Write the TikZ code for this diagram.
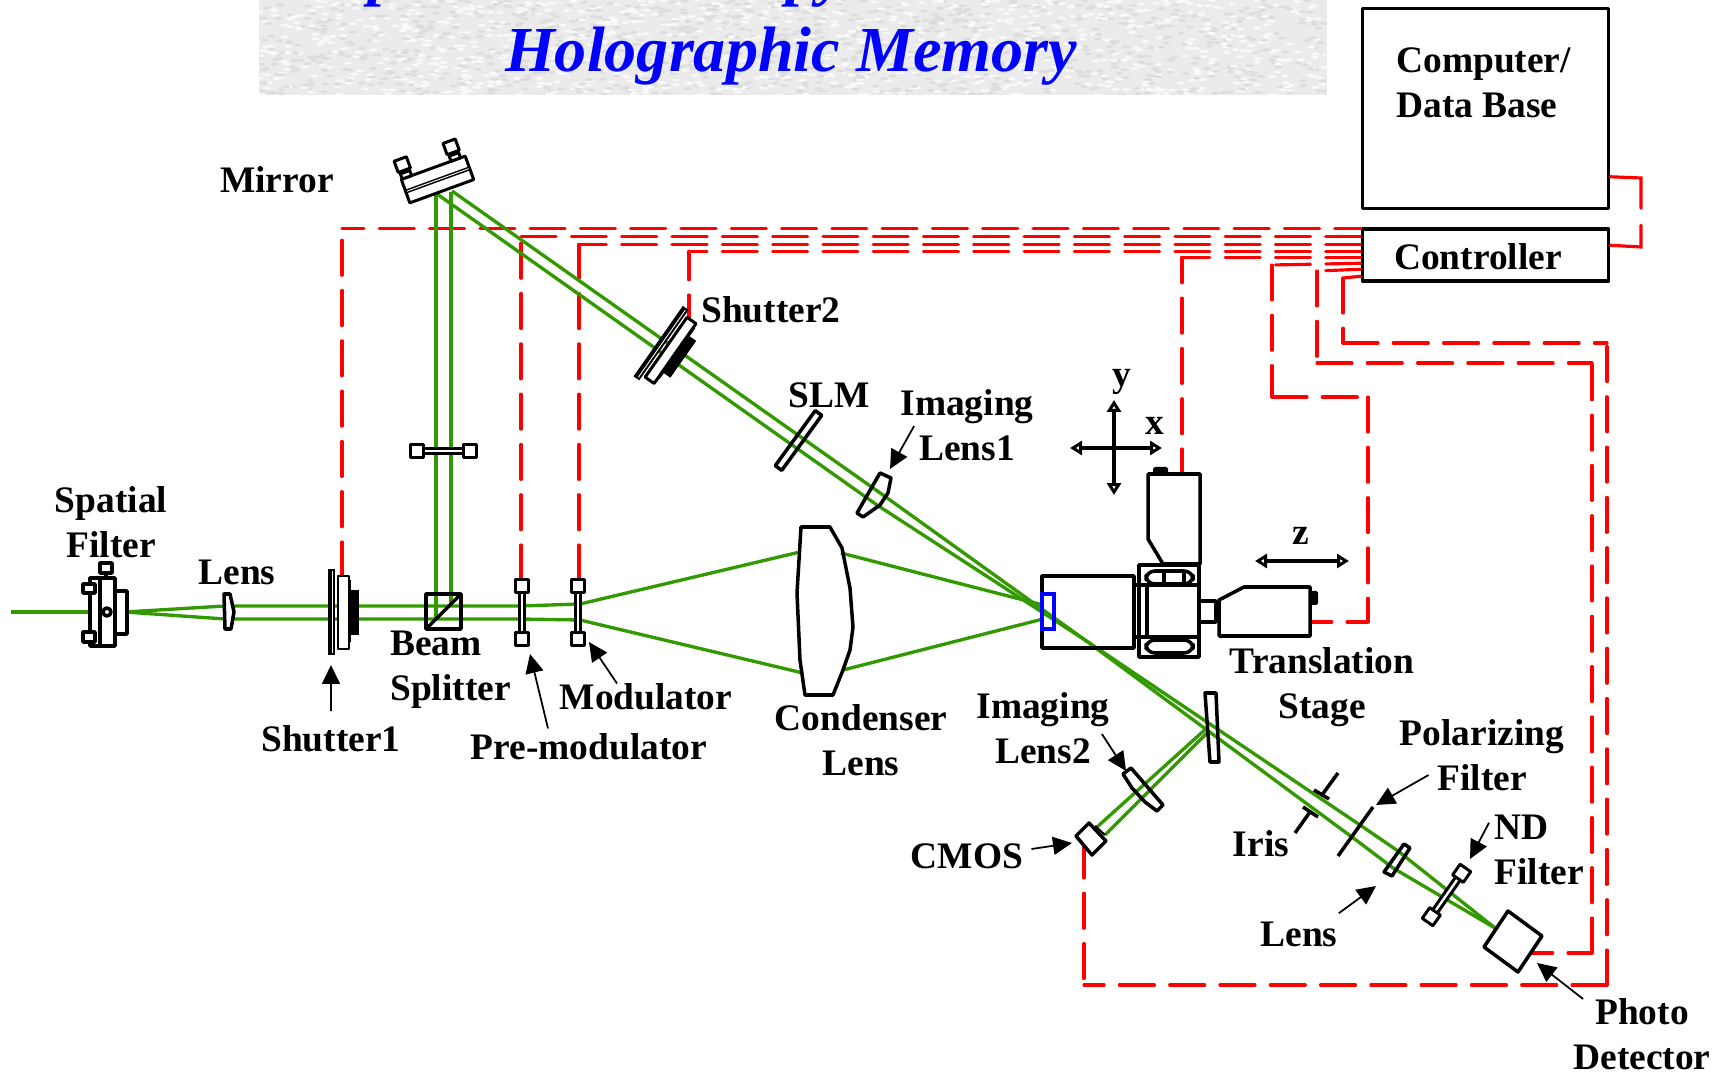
\documentclass[tikz,border=0pt]{standalone}
\usepackage{fontspec}
\setmainfont{Liberation Serif}
\usetikzlibrary{arrows.meta,calc}
\definecolor{beamgreen}{RGB}{51,153,0}
\tikzset{
  unit/.style={black, line width=2pt, line join=round},
  part/.style={unit, fill=white},
  thinpart/.style={black, line width=1.7pt, line join=round, fill=white},
  beam/.style={beamgreen, line width=1.9pt},
  wire/.style={red, line width=1.8pt, dash pattern=on 0.7cm off 0.306cm, line cap=round},
  callout/.style={black, line width=1pt, -{Triangle[length=0.38cm,width=0.36cm]}},
  axis/.style={black, line width=1.8pt, {Triangle[open,fill=white,length=0.24cm,width=0.28cm]}-{Triangle[open,fill=white,length=0.24cm,width=0.28cm]}},
  lbl/.style={font=\fontsize{21.3}{25.6}\selectfont\bfseries, inner sep=0pt, align=center},
  headline/.style={font=\fontsize{36.5}{40}\selectfont\bfseries\itshape, text=blue, inner sep=0pt},
  % shutter body, plate on the left, centre at the origin
  shutterunit/.pic={
    \fill[black] (9,-32) rectangle (11,30);
    \fill[black] (9,-22) rectangle (19,23);
    \draw[thinpart] (-2,-36) rectangle (9,37);
    \fill[black] (-12,-43) rectangle (-5,43);
    \draw[white, line width=0.5pt] (-7.5,-41) -- (-7.5,41);
  },
  % thin bar between two square holders
  barunit/.pic={
    \draw[thinpart] (-2.8,-22) rectangle (2.8,22);
    \draw[thinpart] (-6.5,-33) rectangle (6.5,-20);
    \draw[thinpart] (-6.5,20) rectangle (6.5,33);
  },
}
\begin{document}
\begin{tikzpicture}[x=0.02cm, y=-0.02cm]
  \useasboundingbox (0,0) rectangle (1729,1074);
  % slide title on its mottled band
  \begin{scope}
    \clip (259,0) rectangle (1327,95);
    \fill[gray!16] (259,0) rectangle (1327,95);
    \pgfmathsetseed{7}
    \foreach \k in {1,...,1000} {
      \pgfmathsetmacro{\rx}{259+rnd*1068}
      \pgfmathsetmacro{\ry}{rnd*95}
      \fill[gray!27] (\rx,\ry) ellipse (4 and 1.5);
      \pgfmathsetmacro{\rx}{259+rnd*1068}
      \pgfmathsetmacro{\ry}{rnd*95}
      \fill[gray!5] (\rx,\ry) ellipse (4 and 1.5);
    }
    \node[headline, anchor=base west] (titleA) at (368,-6) {p};
    \node[headline, anchor=base west] (titleB) at (786,-6) {py};
  \end{scope}
  \node[headline] (titleC) at (791,56) {Holographic Memory};

  % control boxes
  \node[unit, draw, minimum width=4.92cm, minimum height=4cm, inner sep=0pt] (comp) at (1485.5,108.5) {};
  \node[lbl, align=left, anchor=west] (lblComp) at (1396,83) {Computer/\\Data Base};
  \node[unit, draw, minimum width=4.92cm, minimum height=1.04cm, inner sep=0pt] (ctrl) at (1485.5,255) {};
  \node[lbl] (lblCtrl) at (1478,257) {Controller};

  % wire ends on the parts
  \coordinate (shutterOneIn) at (342,575);
  \coordinate (premodIn) at (521,580);
  \coordinate (modIn) at (579,580);
  \coordinate (shutterTwoIn) at (689,318);
  \coordinate (camIn) at (1182,475);
  \coordinate (stageIn) at (1311,622);
  \coordinate (detIn) at (1532,953);
  \coordinate (cmosIn) at (1084,843);

  % control wires with one bend, dashed out from both ends
  \foreach \unitin/\dy/\hph/\vph in {shutterOneIn/1/0.18/0.04, premodIn/9/0/0, modIn/17/0/0,
      shutterTwoIn/24/0/0.24, camIn/30/0/0.18} {
    \coordinate (wireStart) at ($(ctrl.north west)+(0,\dy)$);
    \draw[wire, dash phase=\hph cm] (wireStart) -- (wireStart -| \unitin);
    \draw[wire, dash phase=\vph cm] (\unitin) -- (wireStart -| \unitin);
  }

  % long wires, bend by bend
  \coordinate (wireF0) at ($(ctrl.north west)+(0,36)$);
  \coordinate (wireF1) at (1272,265);
  \coordinate (wireF2) at (1272,397);
  \coordinate (wireF3) at (1368,397);
  \coordinate (wireF4) at (1368,622);
  \coordinate (wireG0) at ($(ctrl.north west)+(0,42)$);
  \coordinate (wireG1) at (1317,271);
  \coordinate (wireG2) at (1317,363);
  \coordinate (wireG3) at (1592,363);
  \coordinate (wireG4) at (1592,953);
  \coordinate (wireH0) at ($(ctrl.north west)+(0,49)$);
  \coordinate (wireH1) at (1343,278);
  \coordinate (wireH2) at (1343,343);
  \coordinate (wireH3) at (1607,343);
  \coordinate (wireH4) at (1607,985);
  \coordinate (wireH5) at (1084,985);
  \foreach \a/\b in {wireF0/wireF1, wireF1/wireF2, wireF2/wireF3, wireF3/wireF4,
      wireG0/wireG1, wireG1/wireG2, wireG2/wireG3, wireG4/wireG3,
      wireH0/wireH1, wireH1/wireH2, wireH2/wireH3, wireH4/wireH3, wireH4/wireH5, cmosIn/wireH5} {
    \draw[wire] (\a) -- (\b);
  }
  \draw[wire, dash phase=0.28cm] (wireF4) -- (stageIn);
  \draw[wire, dash phase=0.22cm] (wireG4) -- (detIn);

  % computer to controller
  \draw[wire, dash pattern=on 1.22cm off 0.34cm] ($(comp.north east)+(0,170)$) -- (1641,178) -- (1641,247) -- ($(ctrl.north east)+(0,18)$);

  % beams
  \draw[beam] (11,612) -- (125,612);
  \draw[beam] (125,612) -- (225,606) -- (520,606) -- (580,604) -- (800,552);
  \draw[beam] (125,612) -- (225,619) -- (520,619) -- (580,620) -- (803,673);
  \draw[beam] (841,553) -- (1043,605);
  \draw[beam] (843,670) -- (1043,619);
  \draw[beam] (436,619) -- (436,192);
  \draw[beam] (451,606) -- (451,192);
  \draw[beam] (452,191) -- (883,495) -- (1085,640) -- (1360,825) -- (1398,851) -- (1495,928);
  \draw[beam] (437,194) -- (877,505) -- (1085,640) -- (1360,843) -- (1393,868) -- (1495,928);
  \draw[beam] (1208,727) -- (1097,827);
  \draw[beam] (1208,732) -- (1105,835);

  % spatial filter
  \draw[part] (90,578) rectangle (115,646);
  \draw[unit] (100,578) -- (100,646);
  \draw[part] (115,591) rectangle (127,634);
  \draw[part] (100,563) rectangle (112,573);
  \draw[unit] (106,573) -- (106,578);
  \draw[part] (83,584) rectangle (95,593);
  \draw[part] (83,632) rectangle (95,642);
  \draw[part] (107,612) circle (4);

  % small lens
  \draw[part] (224,594) -- (230,594) -- (234,612) -- (231,629) -- (225,629) -- cycle;

  \pic at (340,612) {shutterunit};
  \pic[rotate=-35] at (668,348) {shutterunit};

  % fold mirror
  \begin{scope}[shift={(437.5,179.5)}, rotate=20]
    \draw[thinpart] (-34,-12.5) rectangle (34,12.5);
    \fill[black] (-34,-1.5) rectangle (34,2.5);
    \draw[white, line width=0.5pt] (-33,0.5) -- (33,0.5);
    \foreach \k in {-28,24} {
      \draw[thinpart] (\k-5,-18) rectangle (\k+5,-12.5);
      \draw[thinpart] (\k-6.5,-32) rectangle (\k+6.5,-20);
      \draw[black, line width=1.7pt] (\k-2,-20) -- (\k-2,-18) (\k+2,-20) -- (\k+2,-18);
    }
  \end{scope}

  % bars
  \pic[rotate=90] at (443.5,451) {barunit};
  \pic at (522,612.5) {barunit};
  \pic at (578,612.5) {barunit};
  \pic[rotate=-35] at (1446.5,895) {barunit};

  % beam splitter cube
  \draw[unit] (426,594) rectangle (461,629);
  \draw[unit] (426,629) -- (461,594);

  % condenser lens
  \draw[unit] (801,527) -- (830,527) -- (842,548) -- (850,588) -- (853,627) -- (850,650) -- (843,670)
    -- (833,695) -- (805,695) -- (800,660) -- (797,593) -- cycle;

  % slm and imaging lens 1
  \draw[unit, shift={(798.5,440.5)}, rotate=54] (-34,-4) rectangle (34,4);
  \draw[unit] (857,513) -- (880,473) -- (891,478) -- (888,493) -- (880,505) -- (863,517) -- cycle;

  % motion arrows
  \draw[axis] (1070,448) -- (1162,448);
  \draw[axis] (1114,400) -- (1114,495);
  \draw[axis] (1255,561) -- (1349,561);

  % sample stage and actuators
  \draw[unit] (1042,576) rectangle (1134,648);
  \draw[blue, line width=2pt] (1042,594) rectangle (1054,629);
  \draw[unit] (1134,585) rectangle (1147,637);
  \draw[unit] (1139,565) rectangle (1199,657);
  \draw[unit] (1139,585) -- (1199,585) (1139,637) -- (1199,637);
  \draw[unit, rounded corners=5pt] (1146,571) rectangle (1193,584);
  \draw[unit] (1164,571) -- (1164,584) (1184,571) -- (1184,584);
  \draw[unit, rounded corners=5pt] (1146,640) rectangle (1193,653);
  \draw[unit] (1199,601) rectangle (1216,622);
  \draw[unit] (1216,607) rectangle (1219,616);
  \draw[unit] (1219,600) -- (1244,587) -- (1310,587) -- (1310,636) -- (1219,636) -- cycle;
  \fill[black, rounded corners=1pt] (1309,591) rectangle (1318,605);
  \draw[part] (1148,474) -- (1200,474) -- (1200,564) -- (1163,564) -- (1148,539) -- cycle;
  \fill[black, rounded corners=1pt] (1153,467) rectangle (1168,475);

  % beam splitter plate, imaging lens 2, cmos
  \draw[unit] (1205,693) -- (1216,693) -- (1219,762) -- (1210,762) -- cycle;
  \draw[unit] (1131,768) -- (1163,805) -- (1157,811) -- (1145,802) -- (1132,788) -- (1123,774) -- cycle;
  \draw[part] (1076,836) -- (1089,823) -- (1106,841) -- (1092,855) -- cycle;
  \draw[black, line width=1.2pt] (1095,826) -- (1105,835);

  % iris
  \draw[unit] (1314,790) -- (1329,799) (1322,795) -- (1338,773);
  \draw[unit] (1303,807) -- (1318,817) (1310,812) -- (1295,833);

  % polarizing filter, last lens, photo detector
  \draw[unit] (1373,807) -- (1338,856);
  \draw[unit] (1404,844) -- (1410,848) -- (1392,876) -- (1384,872) -- cycle;
  \draw[part] (1508,911) -- (1542,936) -- (1518,972) -- (1484,947) -- cycle;

  % labels
  \node[lbl] (lblMirror) at (277,180) {Mirror};
  \node[lbl, anchor=west] (lblShutterTwo) at (701,310) {Shutter2};
  \node[lbl] (lblSlm) at (829,395) {SLM};
  \node[lbl] (lblLensOne) at (967,425) {Imaging\\Lens1};
  \node[lbl] (lblY) at (1122,382) {y};
  \node[lbl] (lblX) at (1155,426) {x};
  \node[lbl] (lblZ) at (1301,536) {z};
  \node[lbl] (lblSpatial) at (111,522) {Spatial\\Filter};
  \node[lbl] (lblLensIn) at (237,572) {Lens};
  \node[lbl, align=left, anchor=west] (lblSplitter) at (390,670) {Beam\\Splitter};
  \node[lbl] (lblShutterOne) at (331,739) {Shutter1};
  \node[lbl] (lblPremod) at (589,747) {Pre-modulator};
  \node[lbl] (lblMod) at (646,697) {Modulator};
  \node[lbl] (lblCondenser) at (861,740) {Condenser\\Lens};
  \node[lbl] (lblLensTwo) at (1043,728) {Imaging\\Lens2};
  \node[lbl] (lblStage) at (1322,687) {Translation\\Stage};
  \node[lbl] (lblPolar) at (1482,755) {Polarizing\\Filter};
  \node[lbl] (lblCmos) at (967,856) {CMOS};
  \node[lbl] (lblIris) at (1261,844) {Iris};
  \node[lbl] (lblLensOut) at (1299,934) {Lens};
  \node[lbl, align=left, anchor=west] (lblNd) at (1494,850) {ND\\Filter};
  \node[lbl] (lblPhoto) at (1642,1034) {Photo\\Detector};

  % arrow tips
  \coordinate (tipShutterOne) at (331,665);
  \coordinate (tipPremod) at (530,654);
  \coordinate (tipMod) at (589,642);
  \coordinate (tipLensOne) at (890,469);
  \coordinate (tipLensTwo) at (1126,771);
  \coordinate (tipCmos) at (1072,843);
  \coordinate (tipPolar) at (1376,805);
  \coordinate (tipNd) at (1470,859);
  \coordinate (tipLensOut) at (1376,886);
  \coordinate (tipPhoto) at (1537,963);

  \draw[callout] ($(lblShutterOne.north)+(0,-14)$) -- (tipShutterOne);
  \draw[callout] ($(lblPremod.north)+(-41,-5)$) -- (tipPremod);
  \draw[callout] ($(lblMod.north)+(-29,0)$) -- (tipMod);
  \draw[callout] ($(lblLensOne.west)+(14,1)$) -- (tipLensOne);
  \draw[callout] ($(lblLensTwo.east)+(-8,6)$) -- (tipLensTwo);
  \draw[callout] ($(lblCmos.east)+(8,-7)$) -- (tipCmos);
  \draw[callout] ($(lblPolar.west)+(29,20)$) -- (tipPolar);
  \draw[callout] ($(lblNd.north west)+(-5,8)$) -- (tipNd);
  \draw[callout] ($(lblLensOut.north east)+(1,-8)$) -- (tipLensOut);
  \draw[callout] ($(lblPhoto.north west)+(10,1)$) -- (tipPhoto);
\end{tikzpicture}
\end{document}
